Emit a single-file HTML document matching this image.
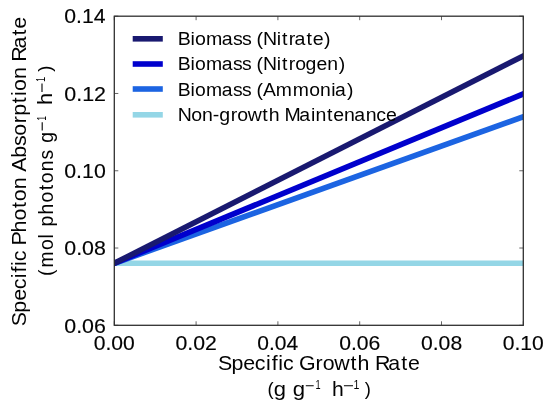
<!DOCTYPE html>
<html><head><meta charset="utf-8"><style>html,body{margin:0;padding:0;background:#fff;overflow:hidden;}svg{display:block;}</style></head>
<body><svg width="550" height="411" viewBox="0 0 550 411">
<rect x="0" y="0" width="550" height="411" fill="#fff"/>
<defs><clipPath id="ax"><rect x="114.3" y="16.2" width="408.99999999999994" height="309.1"/></clipPath></defs>
<path d="M114.30 325.3v-4M114.30 16.2v4M196.10 325.3v-4M196.10 16.2v4M277.90 325.3v-4M277.90 16.2v4M359.70 325.3v-4M359.70 16.2v4M441.50 325.3v-4M441.50 16.2v4M523.30 325.3v-4M523.30 16.2v4M114.3 325.30h4M523.3 325.30h-4M114.3 248.02h4M523.3 248.02h-4M114.3 170.75h4M523.3 170.75h-4M114.3 93.47h4M523.3 93.47h-4M114.3 16.20h4M523.3 16.20h-4" stroke="#555" stroke-width="0.9" fill="none"/>
<g clip-path="url(#ax)"><line x1="108.3" y1="263.30" x2="529.3" y2="263.30" stroke="#94d6e6" stroke-width="5.6"/><line x1="108.3" y1="265.45" x2="529.3" y2="114.65" stroke="#1c64e2" stroke-width="5.6"/><line x1="108.3" y1="265.79" x2="529.3" y2="91.41" stroke="#0000cd" stroke-width="5.6"/><line x1="108.3" y1="266.34" x2="529.3" y2="52.86" stroke="#191970" stroke-width="5.6"/></g>
<rect x="114.3" y="16.2" width="408.99999999999994" height="309.1" fill="none" stroke="#303030" stroke-width="1.3"/>
<line x1="132.7" y1="38.8" x2="162.8" y2="38.8" stroke="#191970" stroke-width="5.6"/>
<line x1="132.7" y1="64.0" x2="162.8" y2="64.0" stroke="#0000cd" stroke-width="5.6"/>
<line x1="132.7" y1="89.0" x2="162.8" y2="89.0" stroke="#1c64e2" stroke-width="5.6"/>
<line x1="132.7" y1="114.8" x2="162.8" y2="114.8" stroke="#94d6e6" stroke-width="5.6"/>
<path d="M305.8 385.8h7.9M343.9 385.8h9.1M42.2 130.5v-8.3M42.0 92.1v-8.7" stroke="#000" stroke-width="1.1"/>
<g font-family='"Liberation Sans", sans-serif' fill="#000" opacity="0.995"><g stroke="#000" stroke-width="0.16"><text transform="translate(64.25,332.55) scale(1.0620,1)" font-size="20.14">0.06</text><text transform="translate(64.25,255.27) scale(1.0620,1)" font-size="20.14">0.08</text><text transform="translate(64.25,178.00) scale(1.0592,1)" font-size="20.14">0.10</text><text transform="translate(64.25,100.72) scale(1.0649,1)" font-size="20.14">0.12</text><text transform="translate(64.26,23.45) scale(1.0536,1)" font-size="20.14">0.14</text><text transform="translate(93.76,349.80) scale(1.0486,1)" font-size="20.14">0.00</text><text transform="translate(175.56,349.80) scale(1.0542,1)" font-size="20.14">0.02</text><text transform="translate(257.36,349.80) scale(1.0431,1)" font-size="20.14">0.04</text><text transform="translate(339.16,349.80) scale(1.0514,1)" font-size="20.14">0.06</text><text transform="translate(420.96,349.80) scale(1.0514,1)" font-size="20.14">0.08</text><text transform="translate(502.76,349.80) scale(1.0486,1)" font-size="20.14">0.10</text></g><text transform="translate(177.74,44.90) scale(1.0526,1)" x="0.00 12.10 16.37 26.85 41.84 52.47 61.06 61.06 74.75 80.94 94.10 99.02 105.50 110.94 122.36 128.21 138.97" font-size="18.62">Biomass (Nitrate)</text><text transform="translate(177.81,70.30) scale(1.0428,1)" x="0.00 12.18 16.51 27.12 42.22 52.95 61.61 61.61 75.42 81.70 94.94 99.91 106.46 112.64 122.51 133.05 143.41 154.44" font-size="18.62">Biomass (Nitrogen)</text><text transform="translate(177.83,95.70) scale(1.0394,1)" x="0.00 12.20 16.56 27.21 42.36 53.12 61.81 61.81 75.66 82.04 94.33 110.60 126.42 136.79 147.49 151.18 162.72" font-size="18.62">Biomass (Ammonia)</text><text transform="translate(177.73,121.40) scale(1.0492,1)" x="0.00 12.88 23.15 33.46 39.50 50.61 56.74 66.65 80.66 86.66 86.66 101.70 115.84 126.94 131.39 142.36 148.24 158.53 168.18 179.14 189.26 198.60" font-size="18.62">Non-growth Maintenance</text><text transform="translate(217.90,370.30) scale(1.0760,1)" x="0.00 12.57 23.63 34.37 44.72 50.07 55.99 60.45 60.45 75.43 90.78 97.43 108.18 123.28 129.81 129.81 145.97 158.38 170.33 176.73" font-size="19.86">Specific Growth Rate</text><text transform="translate(267.56,394.64) scale(1.0000,1)" font-size="18.40">(</text><text transform="translate(273.72,395.90) scale(1.1069,1)" font-size="19.86">g</text><text transform="translate(292.71,395.90) scale(1.1180,1)" font-size="19.86">g</text><text transform="translate(332.02,395.90) scale(1.0659,1)" font-size="19.86">h</text><text transform="translate(364.87,394.64) scale(1.0000,1)" font-size="18.40">)</text><text transform="translate(315.41,388.70) scale(0.7210,1)" font-size="12.75">1</text><text transform="translate(353.51,388.70) scale(0.8292,1)" font-size="12.75">1</text><text transform="translate(25.80,326.24) rotate(-90) scale(1.1132,1)" x="-0.00 12.14 22.82 33.19 43.20 48.36 54.08 58.36 58.36 72.65 84.15 94.93 106.16 112.27 123.01 123.01 138.82 151.42 161.91 171.06 182.31 189.05 200.34 206.76 211.26 221.99 221.99 237.58 249.57 261.13 267.29" font-size="19.30">Specific Photon Absorption Rate</text><text transform="translate(52.70,275.96) rotate(-90) scale(1.0000,1)" x="-0.00 8.47 25.98 37.42" font-size="19.30">(mol</text><text transform="translate(52.70,226.59) rotate(-90) scale(1.0000,1)" x="-0.00 12.02 24.01 36.22 43.32 55.28 67.04" font-size="19.30">photons</text><text transform="translate(52.70,142.71) rotate(-90) scale(1.0000,1)" x="-0.00" font-size="19.30">g</text><text transform="translate(52.10,104.92) rotate(-90) scale(1.1329,1)" font-size="19.30">h</text><text transform="translate(50.94,71.63) rotate(-90) scale(1.0000,1)" font-size="18.40">)</text><text transform="translate(45.60,120.39) rotate(-90) scale(0.6129,1)" font-size="12.75">1</text><text transform="translate(45.40,82.09) rotate(-90) scale(0.7210,1)" font-size="12.75">1</text></g>
</svg></body></html>
